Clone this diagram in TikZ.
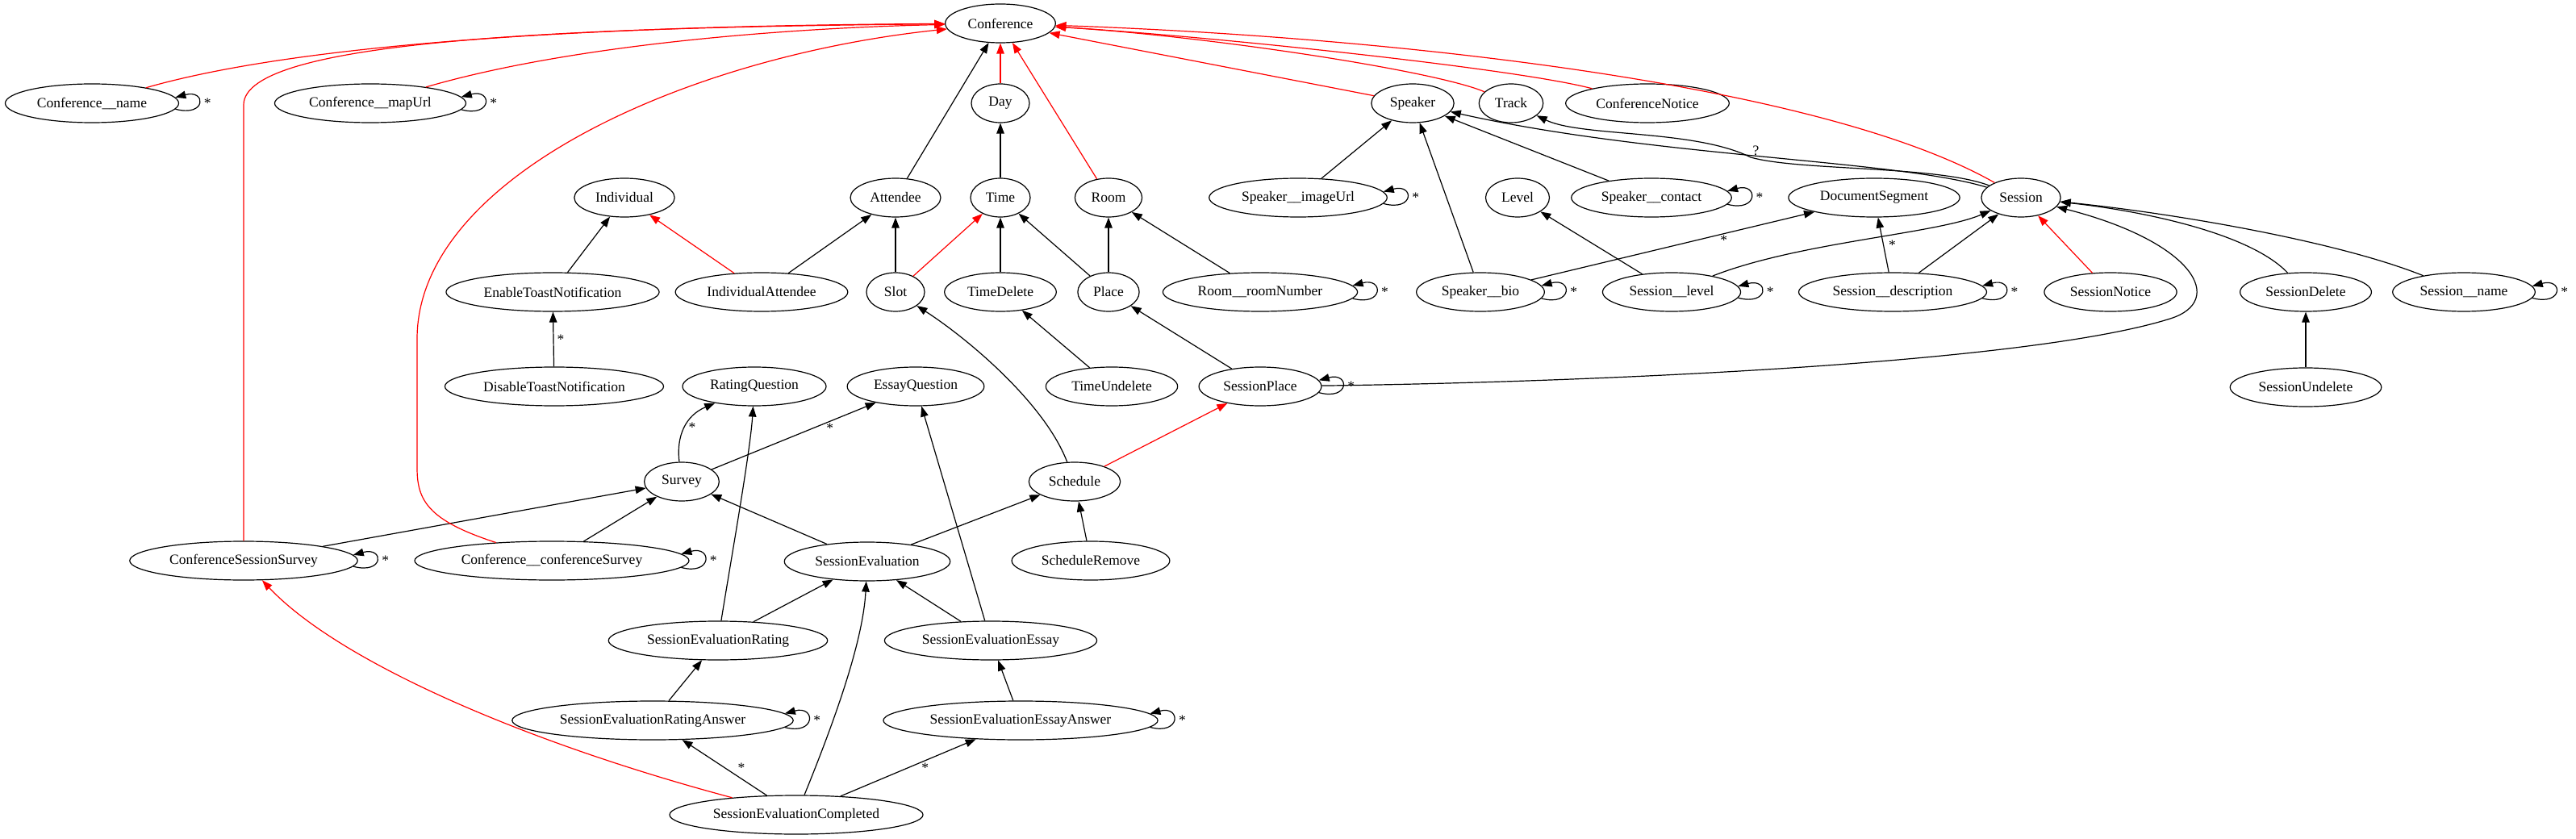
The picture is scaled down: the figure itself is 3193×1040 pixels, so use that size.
\documentclass[tikz,border=0pt]{standalone}
\usepackage{fontspec}
\setmainfont{Liberation Serif}
\usetikzlibrary{arrows.meta,shapes.geometric}
\tikzset{
    cls/.style={draw, ellipse, line width=1.2pt, inner xsep=8pt, inner ysep=2pt, minimum width=72pt, minimum height=48pt, font=\fontsize{17.5}{20}\selectfont},
    edge/.style={-{Triangle[length=13pt,width=9.5pt]}, line width=1.2pt},
    isa/.style={edge, red},
    card/.style={font=\fontsize{17.5}{20}\selectfont, inner sep=2pt},
    selfloop/.style={out=-15, in=15, distance=40pt}
}
\begin{document}
\begin{tikzpicture}[x=1pt, y=1pt]
    \useasboundingbox (0,0) rectangle (3193,-1040);
    \foreach \n/\x/\y/\t in {
        conf/1240/29/Conference,
        confname/114/128/{Conference\_\_name}, confmap/459/128/{Conference\_\_mapUrl}, day/1240/128/Day,
        speaker/1751/128/Speaker, track/1873/128/Track, confnotice/2042/128/ConferenceNotice,
        individual/774/245/Individual, attendee/1110/245/Attendee, time/1240/245/Time, room/1374/245/Room,
        spkimage/1609/245/{Speaker\_\_imageUrl}, level/1881/245/Level, spkcontact/2047/245/{Speaker\_\_contact},
        docseg/2323/245/DocumentSegment, session/2505/245/Session,
        enabletoast/685/362/EnableToastNotification, indattendee/944/362/IndividualAttendee, slot/1110/362/Slot,
        timedelete/1240/362/TimeDelete, place/1374/362/Place, roomnumber/1562/362/{Room\_\_roomNumber},
        spkbio/1835/362/{Speaker\_\_bio}, seslevel/2072/362/{Session\_\_level}, sesdesc/2346/362/{Session\_\_description},
        sesnotice/2616/362/SessionNotice, sesdelete/2858/362/SessionDelete, sesname/3054/362/{Session\_\_name},
        disabletoast/687/479/DisableToastNotification, ratingq/935/479/RatingQuestion, essayq/1135/479/EssayQuestion,
        timeundelete/1378/479/TimeUndelete, sesplace/1562/479/SessionPlace, sesundelete/2858/480/SessionUndelete,
        survey/845/597/Survey, schedule/1332/597/Schedule,
        css/302/695/ConferenceSessionSurvey, confsurvey/684/695/{Conference\_\_conferenceSurvey},
        seseval/1075/696/SessionEvaluation, schedremove/1352/695/ScheduleRemove,
        ser/890/794/SessionEvaluationRating, see/1228/794/SessionEvaluationEssay,
        sera/809/893/SessionEvaluationRatingAnswer, seea/1265/893/SessionEvaluationEssayAnswer,
        sec/987/1010/SessionEvaluationCompleted}
        \node[cls] (\n) at (\x,-\y) {\t};
    \foreach \a/\b in {day/conf, room/conf, speaker/conf, indattendee/individual, slot/time, schedule/sesplace, sesnotice/session}
        \draw[isa] (\a) -- (\b);
    \foreach \a/\b in {time/day, attendee/conf, enabletoast/individual, indattendee/attendee, slot/attendee,
        timedelete/time, place/time, place/room, roomnumber/room, spkimage/speaker, spkbio/speaker,
        spkcontact/speaker, seslevel/level, sesdesc/session, sesundelete/sesdelete, timeundelete/timedelete,
        sesplace/place, css/survey, confsurvey/survey, seseval/survey, seseval/schedule, schedremove/schedule,
        ser/seseval, see/seseval, see/essayq, sera/ser, seea/see}
        \draw[edge] (\a) -- (\b);
    \foreach \n/\t in {confname/4, confmap/4, spkimage/4, spkcontact/5, roomnumber/4, spkbio/6, seslevel/5,
        sesdesc/4, sesname/5, sesplace/6, css/3, confsurvey/3, sera/3, seea/3}
        \draw[edge] (\n.-\t) to[selfloop] node[card, right, xshift=4pt] {*} (\n.\t);
    \draw[isa] (confname) .. controls (420,-40) and (900,-31) .. (conf);
    \draw[isa] (confmap) .. controls (720,-52) and (1000,-34) .. (conf);
    \draw[isa] (css) -- (302,-130) .. controls (302,-50) and (700,-34) .. (conf);
    \draw[isa] (confsurvey) .. controls (530,-645) and (517,-620) .. (517,-580) -- (517,-420) .. controls (517,-220) and (850,-70) .. (conf);
    \draw[isa] (track) .. controls (1780,-88) and (1500,-45) .. (conf);
    \draw[isa] (confnotice) .. controls (1880,-85) and (1500,-45) .. (conf);
    \draw[isa] (session) .. controls (2250,-100) and (1700,-45) .. (conf);
    \draw[isa] (sec) .. controls (650,-920) and (420,-820) .. (css);
    \draw[edge] (session) .. controls (2350,-198) and (2050,-195) .. (speaker);
    \draw[edge] (session) .. controls (2400,-205) and (2230,-212) .. (2170,-195) node[card, above right] {?} .. controls (2100,-160) and (1960,-170) .. (track);
    \draw[edge] (seslevel) .. controls (2230,-300) and (2400,-290) .. (session);
    \draw[edge] (sesdelete) .. controls (2790,-290) and (2660,-262) .. (session);
    \draw[edge] (sesname) .. controls (2900,-300) and (2700,-265) .. (session);
    \draw[edge] (sesplace) .. controls (1900,-475) and (2500,-455) .. (2690,-395) .. controls (2760,-373) and (2720,-300) .. (session);
    \draw[edge] (schedule) .. controls (1295,-500) and (1200,-420) .. (slot);
    \draw[edge] (survey) .. controls (838,-540) and (850,-515) .. node[card, right, xshift=2pt] {*} (ratingq);
    \draw[edge] (ser) .. controls (905,-700) and (930,-560) .. (ratingq);
    \draw[edge] (sec) .. controls (1040,-880) and (1070,-790) .. (seseval);
    \draw[edge] (disabletoast) -- node[card, right, xshift=2pt] {*} (enabletoast);
    \draw[edge] (survey) -- node[card, pos=0.72, below] {*} (essayq);
    \draw[edge] (spkbio) -- node[card, pos=0.68, below] {*} (docseg);
    \draw[edge] (sesdesc) -- node[card, right, xshift=4pt] {*} (docseg);
    \draw[edge] (sec) -- node[card, right=14pt] {*} (sera);
    \draw[edge] (sec) -- node[card, right=14pt] {*} (seea);
\end{tikzpicture}
\end{document}
